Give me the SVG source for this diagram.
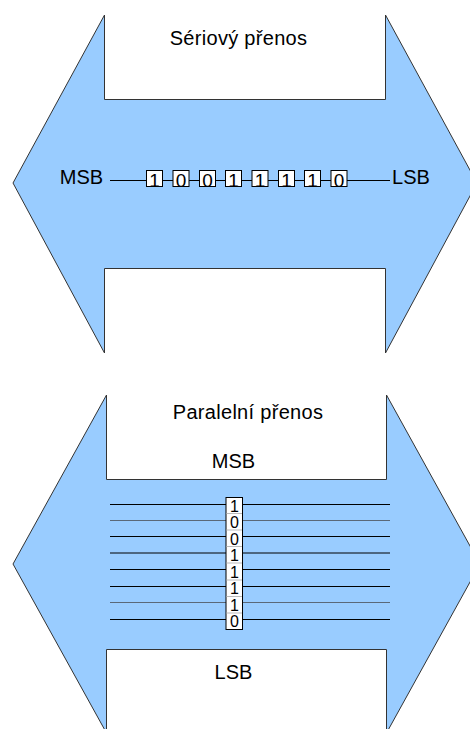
<svg xmlns="http://www.w3.org/2000/svg" width="470" height="729" viewBox="0 0 470 729">
<style>
.arrow{fill:#99ccff;stroke:#333;stroke-width:1}
.t{font-family:"Liberation Sans",Arial,sans-serif;font-size:20px;fill:#000;text-anchor:middle}
.d{font-family:"Liberation Sans",Arial,sans-serif;font-size:19px;fill:#000;text-anchor:middle}
.dc{font-family:"Liberation Sans",Arial,sans-serif;font-size:16px;fill:#000;text-anchor:middle}
.box{fill:#fff;stroke:#000;stroke-width:1}
.cell{fill:#fff;stroke:#000;stroke-width:1}
.div{stroke:#bbb;stroke-width:1}
.w{stroke:#000;stroke-width:1}
.wg{stroke:#5a6878;stroke-width:1}
</style>
<g id="serial-arrow">
<polygon class="arrow" points="13,183 104.5,15 104.5,99.5 385.5,99.5 385.5,15 477,183 385.5,353 385.5,268.5 104.5,268.5 104.5,353"/>
<text class="t" x="238.5" y="45" letter-spacing="0.3">Sériový přenos</text>
<text class="t" x="81.5" y="183.5">MSB</text>
<text class="t" x="411" y="183.5">LSB</text>
</g>
<g id="parallel-arrow">
<polygon class="arrow" points="13,564 106.5,395 106.5,479.5 386.5,479.5 386.5,395 480,564 386.5,733 386.5,649.5 106.5,649.5 106.5,733"/>
<text class="t" x="248" y="418.5" letter-spacing="0.3">Paralelní přenos</text>
<text class="t" x="233.5" y="467.5">MSB</text>
<text class="t" x="233.5" y="678.5">LSB</text>
</g>
<g id="connectors">
<line class="w" x1="110" y1="180.5" x2="390" y2="180.5"/>
<line class="w" x1="110" y1="504.5" x2="390" y2="504.5"/>
<line class="wg" x1="110" y1="520.5" x2="390" y2="520.5"/>
<line class="w" x1="110" y1="536.5" x2="390" y2="536.5"/>
<line class="w" x1="110" y1="553" x2="390" y2="553"/>
<line class="w" x1="110" y1="569.5" x2="390" y2="569.5"/>
<line class="w" x1="110" y1="586.5" x2="390" y2="586.5"/>
<line class="wg" x1="110" y1="602.5" x2="390" y2="602.5"/>
<line class="w" x1="110" y1="619.5" x2="390" y2="619.5"/>
</g>
<g id="serial-bits">
<rect class="box" x="146.5" y="170.5" width="16" height="16"/><text class="d" x="154.5" y="186.5">1</text>
<rect class="box" x="173" y="170.5" width="16" height="16"/><text class="d" x="181" y="186.5">0</text>
<rect class="box" x="199.5" y="170.5" width="16" height="16"/><text class="d" x="207.5" y="186.5">0</text>
<rect class="box" x="225.5" y="170.5" width="16" height="16"/><text class="d" x="233.5" y="186.5">1</text>
<rect class="box" x="252" y="170.5" width="16" height="16"/><text class="d" x="260" y="186.5">1</text>
<rect class="box" x="278.5" y="170.5" width="16" height="16"/><text class="d" x="286.5" y="186.5">1</text>
<rect class="box" x="304.5" y="170.5" width="16" height="16"/><text class="d" x="312.5" y="186.5">1</text>
<rect class="box" x="331" y="170.5" width="16" height="16"/><text class="d" x="339" y="186.5">0</text>
</g>
<g id="parallel-bits">
<rect class="cell" x="226" y="497.5" width="16.5" height="132"/>
<line class="div" x1="226.5" y1="513.5" x2="242" y2="513.5"/>
<line class="div" x1="226.5" y1="530" x2="242" y2="530"/>
<line class="div" x1="226.5" y1="546.5" x2="242" y2="546.5"/>
<line class="div" x1="226.5" y1="563" x2="242" y2="563"/>
<line class="div" x1="226.5" y1="580" x2="242" y2="580"/>
<line class="div" x1="226.5" y1="596.5" x2="242" y2="596.5"/>
<line class="div" x1="226.5" y1="613" x2="242" y2="613"/>
<text class="dc" x="234.5" y="511.5">1</text>
<text class="dc" x="234.5" y="528">0</text>
<text class="dc" x="234.5" y="544.5">0</text>
<text class="dc" x="234.5" y="561">1</text>
<text class="dc" x="234.5" y="577.5">1</text>
<text class="dc" x="234.5" y="594">1</text>
<text class="dc" x="234.5" y="610.5">1</text>
<text class="dc" x="234.5" y="627">0</text>
</g>
</svg>
